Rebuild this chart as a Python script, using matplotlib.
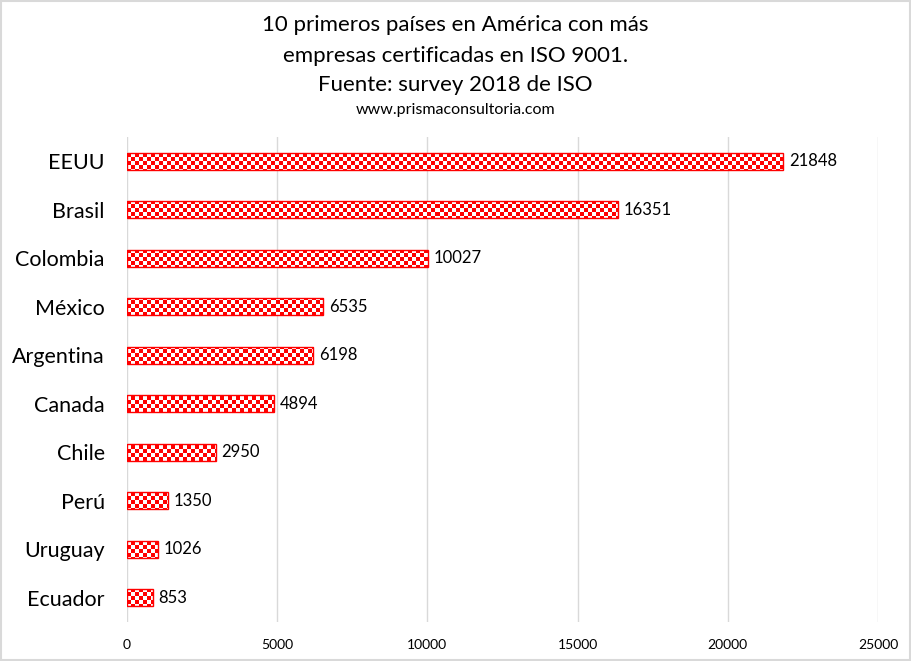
import numpy as np
import matplotlib.pyplot as plt
from matplotlib.patches import Rectangle

plt.rcParams['font.family'] = ['Lato', 'DejaVu Sans']

# datos
paises = ["EEUU", "Brasil", "Colombia", "México", "Argentina",
          "Canada", "Chile", "Perú", "Uruguay", "Ecuador"]
empresas = [21848, 16351, 10027, 6535, 6198, 4894, 2950, 1350, 1026, 853]
xticks = [0, 5000, 10000, 15000, 20000, 25000]

fig = plt.figure(figsize=(9.11, 6.61), dpi=100)
ax = fig.add_axes([127 / 911, 1 - 622 / 661, 751 / 911, 485 / 661])

y = np.arange(len(paises))
bars = ax.barh(y, empresas, height=0.36, color="white",
               edgecolor="none", zorder=1)

# patron de tablero (rojo / blanco) recortado a cada barra
cell = 4
nx = int(751 / cell) + 1
ny = int(485 / cell) + 1
board = (np.add.outer(np.arange(ny), np.arange(nx)) % 2).astype(float)
cmap = plt.matplotlib.colors.ListedColormap(["#ff0000", "white"])
for b in bars:
    im = ax.imshow(board, cmap=cmap, interpolation="nearest",
                   extent=[0, nx * cell / 751, 1 - ny * cell / 485, 1],
                   transform=ax.transAxes, aspect="auto", zorder=2)
    im.set_clip_path(b)
# borde de encima
ax.barh(y, empresas, height=0.36, color="none",
        edgecolor="#ff0000", linewidth=1.0, zorder=4)

ax.bar_label(bars, labels=[str(v) for v in empresas], padding=4,
             fontsize=12, color="black")

ax.set_xlim(0, 25000)
ax.set_ylim(9.5, -0.5)
ax.set_xticks(xticks)
ax.set_xticklabels([str(v) for v in xticks], fontsize=10)
ax.set_yticks(y)
ax.set_yticklabels(paises, fontsize=15.5)
ax.tick_params(length=0)
ax.tick_params(axis="x", pad=12)
ax.tick_params(axis="y", pad=16)
ax.grid(axis="x", color="#d9d9d9", linewidth=1, zorder=0)
ax.set_axisbelow(True)
for s in ax.spines.values():
    s.set_visible(False)

fig.text(0.5, 1 - 25 / 661, "10 primeros países en América con más",
         ha="center", va="center", fontsize=16)
fig.text(0.5, 1 - 56 / 661, "empresas certificadas en ISO 9001.",
         ha="center", va="center", fontsize=16)
fig.text(0.5, 1 - 85 / 661, "Fuente: survey 2018 de ISO",
         ha="center", va="center", fontsize=16)
fig.text(0.5, 1 - 110 / 661, "www.prismaconsultoria.com",
         ha="center", va="center", fontsize=11.5)

fig.add_artist(Rectangle((0.001, 0.001), 0.998, 0.998, transform=fig.transFigure,
                         fill=False, edgecolor="#d9d9d9", linewidth=1.5))

fig.savefig("out.png", dpi=100)
